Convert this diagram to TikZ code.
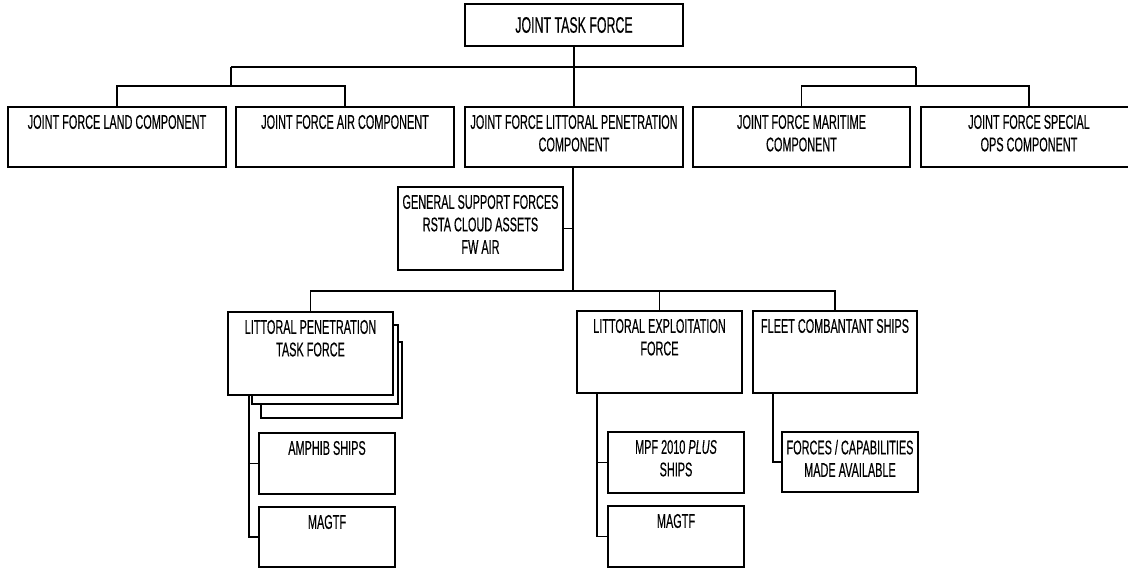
\documentclass[tikz,border=0pt]{standalone}
\usepackage{fontspec}
\setmainfont{Liberation Sans}[FakeStretch=0.55,FakeBold=0.4]
\newcommand\obox[7]{%
  \node[box, minimum width={(#4)-(#2)}, minimum height={(#5)-(#3)}] (#1) at (#2,#3) {};
  \node[txt] (#1t) at ([yshift=-#7pt]#1.north) {#6};
}
\begin{document}
\begin{tikzpicture}[x=1pt,y=-1pt,line width=1.6pt,
  box/.style={draw, line width=1.6pt, fill=white, inner sep=0pt, outer sep=0pt, anchor=north west},
  txt/.style={inner sep=0pt, outer sep=0pt, align=center, anchor=north, font=\fontsize{19.8}{22.5}\selectfont},
  conn/.style={line width=1.6pt}]
\useasboundingbox (0,0) rectangle (1128,569);
\clip (0,0) rectangle (1128,569);
% top
\node[box, minimum width=218, minimum height=42] (jtf) at (465,4) {};
\node[txt, anchor=center, font=\fontsize{22.5}{26}\selectfont] (jtft) at (jtf.center) {JOINT TASK FORCE};
% row 1
\obox{land}{8}{107}{226}{167}{JOINT FORCE LAND COMPONENT}{8}
\obox{air}{236}{107}{454}{167}{JOINT FORCE AIR COMPONENT}{8}
\obox{lpc}{465}{107}{683}{167}{JOINT FORCE LITTORAL PENETRATION\\COMPONENT}{8}
\obox{mar}{693}{107}{910}{167}{JOINT FORCE MARITIME\\COMPONENT}{8}
\obox{sof}{921}{107}{1137}{167}{JOINT FORCE SPECIAL\\OPS COMPONENT}{8}
% general support
\obox{gsf}{398}{187}{563}{270}{GENERAL SUPPORT FORCES\\RSTA CLOUD ASSETS\\FW AIR}{8}
% row 2
\node[box, minimum width=141, minimum height=76] (sh3) at (261,342) {};
\node[box, minimum width=146, minimum height=79] (sh2) at (252,325) {};
\obox{lptf}{228}{312}{393}{395}{LITTORAL PENETRATION\\TASK FORCE}{8}
\obox{lef}{577}{311}{742}{393}{LITTORAL EXPLOITATION\\FORCE}{8}
\obox{fcs}{753}{311}{917}{393}{FLEET COMBANTANT SHIPS}{8}
% row 3
\obox{amphib}{259}{433}{395}{494}{AMPHIB SHIPS}{8}
\obox{magtfa}{259}{507}{395}{567}{MAGTF}{8}
\obox{mpf}{608}{432}{744}{493}{MPF 2010 \textit{PLUS}\\SHIPS}{8}
\obox{magtfb}{608}{506}{744}{567}{MAGTF}{8}
\obox{forces}{782}{432}{918}{492}{FORCES / CAPABILITIES\\MADE AVAILABLE}{8}
% connectors level 1
\coordinate (topl) at (231,67);
\coordinate (topr) at (916,67);
\coordinate (l1) at (231,86);
\coordinate (r1) at (916,86);
\draw[conn] (jtf.south) -- (lpc.north);
\draw[conn] (topl) -- (topr);
\draw[conn] (topl) -- (l1);
\draw[conn] (topr) -- (r1);
\draw[conn] (land.north) |- (l1);
\draw[conn] (air.north) |- (l1);
\draw[conn] (mar.north) |- (r1);
\draw[conn] (sof.north) |- (r1);
% level 2
\coordinate (bus) at (573,291);
\draw[conn] (lpc.south -| bus) -- (bus);
\draw[conn] (gsf.east) -- (gsf.east -| bus);
\draw[conn] (lptf.north) |- (bus);
\draw[conn] (fcs.north) |- (bus);
\draw[conn] (lef.north) -- (lef.north |- bus);
% level 3
\coordinate (lpx) at (249,0);
\coordinate (lex) at (597,0);
\coordinate (fcx) at (773,0);
\draw[conn] (lptf.south -| lpx) |- (amphib.west);
\draw[conn] (lptf.south -| lpx) |- (magtfa.west);
\draw[conn] (lef.south -| lex) |- (mpf.west);
\draw[conn] (lef.south -| lex) |- (magtfb.west);
\draw[conn] (fcs.south -| fcx) |- (forces.west);
\end{tikzpicture}
\end{document}
